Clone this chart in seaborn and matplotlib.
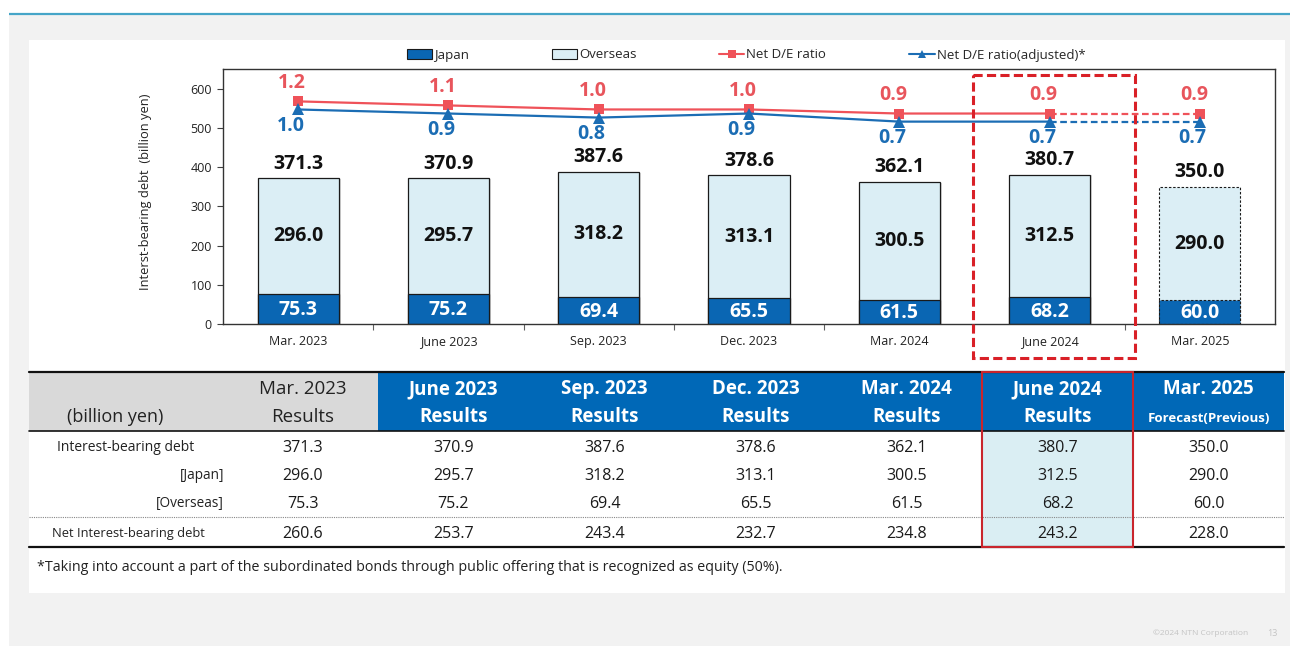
import matplotlib
matplotlib.use("Agg")
import matplotlib.pyplot as plt
from matplotlib.patches import Rectangle, Patch
from matplotlib.lines import Line2D
import seaborn as sns
import pandas as pd

# ---- data -------------------------------------------------------------
periods = ["Mar. 2023", "June 2023", "Sep. 2023", "Dec. 2023",
           "Mar. 2024", "June 2024", "Mar. 2025"]
period_status = ["Results", "Results", "Results", "Results",
                 "Results", "Results", "Forecast(Previous)"]
debt_total = [371.3, 370.9, 387.6, 378.6, 362.1, 380.7, 350.0]
debt_japan = [296.0, 295.7, 318.2, 313.1, 300.5, 312.5, 290.0]
debt_overseas = [75.3, 75.2, 69.4, 65.5, 61.5, 68.2, 60.0]
net_debt = [260.6, 253.7, 243.4, 232.7, 234.8, 243.2, 228.0]
de_ratio = [1.2, 1.1, 1.0, 1.0, 0.9, 0.9, 0.9]
de_ratio_adj = [1.0, 0.9, 0.8, 0.9, 0.7, 0.7, 0.7]
y_ticks = [0, 100, 200, 300, 400, 500, 600]
row_labels = ["Interest-bearing debt", "[Japan]", "[Overseas]",
              "Net Interest-bearing debt"]
legend_labels = ["Japan", "Overseas", "Net D/E ratio", "Net D/E ratio(adjusted)*"]
footnote = ("*Taking into account a part of the subordinated bonds through public "
            "offering that is recognized as equity (50%).")

# ---- style ------------------------------------------------------------
sns.set_style("white")
plt.rcParams["font.family"] = ["Open Sans", "DejaVu Sans"]

DARK = "#0a66b3"
LIGHT = "#dbeef5"
RED = "#ef5259"
BLUE = "#1b6db4"
HEAD_BLUE = "#0068b7"
HEAD_GRAY = "#d9d9d9"
EDGE = "#1a1a1a"

W, H = 1290, 646
fig = plt.figure(figsize=(W / 100, H / 100), dpi=100)
fig.patch.set_facecolor("white")

# page background, drawn in pixel coordinates
bg = fig.add_axes([0, 0, 1, 1], zorder=0)
bg.set_xlim(0, W)
bg.set_ylim(H, 0)
bg.axis("off")
bg.add_patch(Rectangle((9, 15), W - 9, H - 15, fc="#f2f2f2", ec="none"))
bg.plot([9, W], [13.5, 13.5], color="#45a5c8", lw=1.6, solid_capstyle="butt")
bg.add_patch(Rectangle((29, 40), 1256, 553, fc="white", ec="none"))

# ---- bar + line chart -------------------------------------------------
AX_TOP, AX_BOT = 69, 324
ax = fig.add_axes([223 / W, 1 - AX_BOT / H, 1052 / W, (AX_BOT - AX_TOP) / H],
                  zorder=2)
df = pd.DataFrame({"period": periods, "total": debt_total, "lower": debt_overseas})
sns.barplot(data=df, x="period", y="total", color=LIGHT, saturation=1,
            width=0.54, edgecolor=EDGE, linewidth=0.9, errorbar=None, ax=ax)
sns.barplot(data=df, x="period", y="lower", color=DARK, saturation=1,
            width=0.54, edgecolor=EDGE, linewidth=0.9, errorbar=None, ax=ax)
n = len(periods)
for p in (ax.patches[n - 1], ax.patches[2 * n - 1]):
    p.set_linestyle((0, (2.2, 1.6)))
    p.set_linewidth(0.8)

# soft drop shadow to the right of each solid bar
for p in list(ax.patches[:n - 1]):
    ax.add_patch(Rectangle((p.get_x() + 0.012, p.get_y()), p.get_width(),
                           p.get_height() - 2, fc="#9a9a9a", ec="none",
                           alpha=0.35, zorder=p.get_zorder() - 0.1))

ax.set_xlim(-0.5, n - 0.5)
ax.set_ylim(0, 650)
ax.set_yticks(y_ticks)
ax.set_xlabel("")
ax.set_ylabel("")
ax.tick_params(axis="y", labelsize=9, length=4, width=0.8, color="#404040",
               pad=4, left=True, labelcolor="#222222")
# category names share one baseline below the axis
ax.tick_params(axis="x", which="major", length=0, labelbottom=False)
xt = ax.get_xaxis_transform()
for i, name in enumerate(periods):
    ax.text(i, -21 / (AX_BOT - AX_TOP), name, transform=xt, ha="center",
            va="baseline", fontsize=9, color="#222222")
ax.set_xticks([i + 0.5 for i in range(n - 1)], minor=True)
ax.tick_params(axis="x", which="minor", length=4, width=0.8, color="#606060",
               bottom=True, direction="out")
for s in ax.spines.values():
    s.set_visible(True)
    s.set_color("#333333")
    s.set_linewidth(1.0)

for i in range(n):
    ax.text(i, debt_total[i] + 37, f"{debt_total[i]:.1f}", ha="center", va="center",
            fontsize=14, fontweight="bold", color="#111111")
    ax.text(i, (debt_overseas[i] + debt_total[i]) / 2, f"{debt_japan[i]:.1f}",
            ha="center", va="center", fontsize=14, fontweight="bold", color="#111111")
    ax.text(i, debt_overseas[i] / 2 - 3, f"{debt_overseas[i]:.1f}", ha="center",
            va="center", fontsize=14, fontweight="bold", color="white")

ax2 = ax.twinx()
ax2.set_ylim(-4.3, 2.0)
ax2.set_axis_off()
idx = list(range(n))
for vals, col, mk, ms in ((de_ratio, RED, "s", 7), (de_ratio_adj, BLUE, "^", 8)):
    sns.lineplot(x=idx[:n - 1], y=vals[:n - 1], color=col, lw=1.6, marker=mk,
                 markersize=ms, markeredgewidth=0, ax=ax2)
    sns.lineplot(x=idx[n - 2:], y=vals[n - 2:], color=col, lw=1.6,
                 linestyle=(0, (3, 1.6)), ax=ax2)
    ax2.plot(idx[-1], vals[-1], marker=mk, markersize=ms, color=col,
             markeredgewidth=0, linestyle="none")
ax2.set_xlim(-0.5, n - 0.5)
for i in range(n):
    ax2.text(i - 0.04, de_ratio[i] + 0.45, f"{de_ratio[i]:.1f}", ha="center",
             va="center", fontsize=14, fontweight="bold", color="#e8555c")
    ax2.text(i - 0.05, de_ratio_adj[i] - 0.41, f"{de_ratio_adj[i]:.1f}",
             ha="center", va="center", fontsize=14, fontweight="bold", color=BLUE)

handles = [Patch(fc=DARK, ec=EDGE, lw=0.8), Patch(fc=LIGHT, ec=EDGE, lw=0.8),
           Line2D([], [], color=RED, marker="s", ms=6, lw=1.5, mew=0),
           Line2D([], [], color=BLUE, marker="^", ms=6, lw=1.5, mew=0)]
ax.legend(handles, legend_labels, ncol=4, loc="center",
          bbox_to_anchor=(0.497, 1 + 14 / 255), frameon=False, fontsize=9.5,
          handlelength=1.9, handletextpad=0.15, columnspacing=6.3,
          borderaxespad=0)

fig.text(145 / W, 1 - 192 / H, "Interst-bearing debt  (billion yen)",
         rotation=90, ha="center", va="center", fontsize=9.3, color="#222222")

# dashed highlight around the latest quarter
over = fig.add_axes([0, 0, 1, 1], zorder=5)
over.set_xlim(0, W)
over.set_ylim(H, 0)
over.axis("off")
over.patch.set_alpha(0)
over.add_patch(Rectangle((973, 75), 162, 283, fc="none", ec="#d92027", lw=2.2,
                         linestyle=(0, (3, 1.4))))

# ---- summary table ----------------------------------------------------
edges = [29, 227, 378, 529, 680, 831, 982, 1133, 1284]
top, head_bot, bot = 372, 431, 547
row_base = [452, 480, 508, 538]
hl = 5  # highlighted column

bg.add_patch(Rectangle((edges[0], top), edges[2] - edges[0], head_bot - top,
                       fc=HEAD_GRAY, ec="none"))
bg.add_patch(Rectangle((edges[2], top), edges[-1] - edges[2], head_bot - top,
                       fc=HEAD_BLUE, ec="none"))
bg.add_patch(Rectangle((edges[hl + 1], head_bot), edges[hl + 2] - edges[hl + 1],
                       bot - head_bot, fc="#daeef3", ec="none"))
bg.plot([edges[0], edges[-1]], [top, top], color="#111111", lw=1.6)
bg.plot([edges[0], edges[-1]], [head_bot, head_bot], color="#111111", lw=1.2)
bg.plot([edges[0], edges[-1]], [517, 517], color="#888888", lw=0.8,
        linestyle=(0, (1, 1)))
bg.plot([edges[0], edges[-1]], [bot, bot], color="#111111", lw=1.6)
bg.add_patch(Rectangle((edges[hl + 1], top), edges[hl + 2] - edges[hl + 1],
                       bot - top, fc="none", ec="#c9252c", lw=1.5, zorder=5))

bg.text(115, 422, "(billion yen)", ha="center", va="baseline", fontsize=13,
        color="#222222")
for j in range(n):
    cx = (edges[j + 1] + edges[j + 2]) / 2
    if j == 0:
        kw = dict(color="#222222", fontweight="normal")
    else:
        kw = dict(color="white", fontweight="bold")
    bg.text(cx, 394, periods[j], ha="center", va="baseline", fontsize=13.5, **kw)
    status_size = 9.5 if period_status[j].startswith("Forecast") else 13.5
    bg.text(cx, 422.5, period_status[j], ha="center", va="baseline",
            fontsize=status_size, **kw)
    for r, vals in enumerate((debt_total, debt_japan, debt_overseas, net_debt)):
        bg.text(cx, row_base[r], f"{vals[j]:.1f}", ha="center", va="baseline",
                fontsize=11.5, color="#1a1a1a")

label_pos = [(57, "left", 10), (224, "right", 9.8), (224, "right", 9.8),
             (52, "left", 9.3)]
for r, (lx, align, size) in enumerate(label_pos):
    bg.text(lx, row_base[r] - 1, row_labels[r], ha=align, va="baseline",
            fontsize=size, color="#222222")

bg.text(37, 571, footnote, ha="left", va="baseline", fontsize=10.3,
        color="#222222")
bg.text(1153, 633, "©2024 NTN Corporation", ha="left", va="center",
        fontsize=6, color="#c4c4c4")
bg.text(1272, 633, "13", ha="center", va="center", fontsize=6.5, color="#c4c4c4")

fig.savefig("out.png", dpi=100, facecolor=fig.get_facecolor())
